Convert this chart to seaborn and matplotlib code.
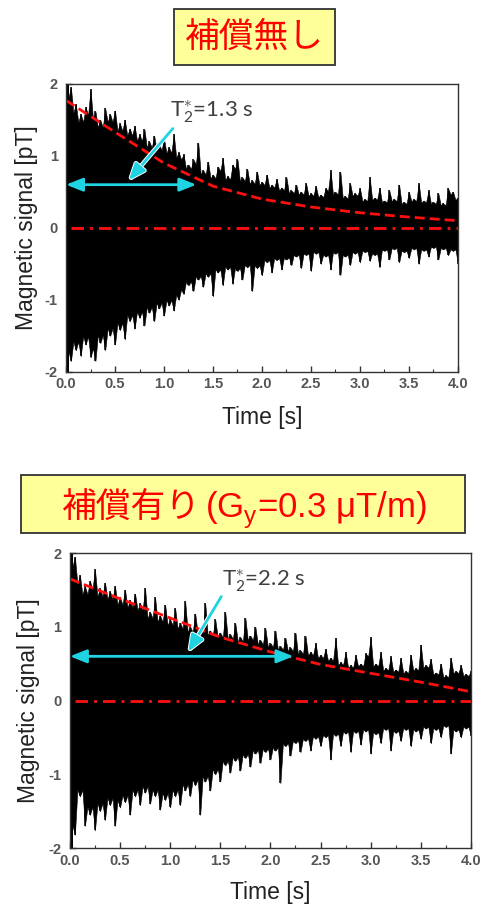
import numpy as np
import matplotlib
matplotlib.use('Agg')
import matplotlib.pyplot as plt
import matplotlib.patheffects as pe
import seaborn as sns
from matplotlib.patches import Rectangle
from matplotlib.ticker import MultipleLocator

# --- data ---
# signal envelope (upper / lower edge of the black band), every 0.05 s
sig_time = np.linspace(0, 4, 81)

upper_nocomp = [2.00, 1.95, 1.72, 1.58, 1.68, 1.93, 1.62, 1.50, 1.66, 1.58,
                1.63, 1.45, 1.50, 1.38, 1.42, 1.30, 1.37, 1.20, 1.28, 1.16,
                1.24, 1.12, 1.30, 1.05, 1.02, 0.88, 0.95, 1.18, 0.80, 0.92,
                0.74, 0.85, 0.97, 0.72, 0.88, 0.95, 0.70, 0.82, 0.66, 0.78,
                0.64, 0.74, 0.60, 0.68, 0.56, 0.70, 0.52, 0.60, 0.50, 0.62,
                0.48, 0.58, 0.46, 0.55, 0.80, 0.50, 0.78, 0.44, 0.62, 0.48,
                0.55, 0.40, 0.70, 0.42, 0.56, 0.38, 0.52, 0.40, 0.60, 0.36,
                0.50, 0.40, 0.62, 0.38, 0.52, 0.36, 0.48, 0.34, 0.55, 0.50,
                0.42]
lower_nocomp = [-2.00, -1.85, -1.70, -1.78, -1.62, -1.80, -1.85, -1.60, -1.70, -1.50,
                -1.62, -1.42, -1.55, -1.30, -1.40, -1.25, -1.36, -1.18, -1.30, -1.12,
                -1.22, -1.08, -1.15, -1.00, -0.92, -0.80, -0.88, -0.72, -0.82, -0.68,
                -0.95, -0.62, -0.80, -0.58, -0.78, -0.60, -0.72, -0.55, -0.88, -0.56,
                -0.66, -0.48, -0.62, -0.45, -0.58, -0.44, -0.52, -0.40, -0.56, -0.38,
                -0.60, -0.36, -0.50, -0.40, -0.58, -0.36, -0.66, -0.40, -0.52, -0.36,
                -0.48, -0.34, -0.46, -0.38, -0.55, -0.32, -0.44, -0.30, -0.48, -0.34,
                -0.42, -0.30, -0.50, -0.32, -0.40, -0.28, -0.44, -0.30, -0.38, -0.32,
                -0.50]
upper_comp = [2.00, 1.95, 1.70, 1.55, 1.62, 1.78, 1.52, 1.60, 1.48, 1.55,
              1.40, 1.50, 1.36, 1.45, 1.32, 1.52, 1.20, 1.40, 1.15, 1.30,
              1.10, 1.25, 1.05, 1.35, 1.00, 1.18, 0.98, 1.32, 0.95, 1.10,
              0.92, 1.20, 0.90, 1.05, 0.86, 1.12, 0.88, 1.00, 0.82, 0.98,
              0.78, 0.95, 0.74, 0.85, 0.72, 0.92, 0.68, 0.88, 0.66, 0.78,
              0.62, 0.70, 0.58, 0.85, 0.52, 0.66, 0.48, 0.62, 0.50, 0.64,
              0.86, 0.50, 0.66, 0.44, 0.60, 0.42, 0.58, 0.40, 0.62, 0.44,
              0.76, 0.48, 0.56, 0.38, 0.50, 0.34, 0.58, 0.40, 0.48, 0.36,
              0.40]
lower_comp = [-2.00, -1.82, -1.30, -1.70, -1.55, -1.76, -1.50, -1.62, -1.42, -1.70,
              -1.45, -1.38, -1.55, -1.30, -1.42, -1.25, -1.40, -1.30, -1.48, -1.35,
              -1.45, -1.30, -1.42, -1.22, -1.30, -1.15, -1.55, -1.10, -1.22, -1.00,
              -1.10, -0.88, -0.98, -0.82, -0.95, -0.78, -0.90, -0.72, -0.85, -0.70,
              -0.80, -0.68, -1.12, -0.62, -0.75, -0.58, -0.70, -0.55, -0.68, -0.52,
              -0.62, -0.50, -0.80, -0.48, -0.62, -0.45, -0.70, -0.44, -0.60, -0.42,
              -0.72, -0.46, -0.58, -0.40, -0.68, -0.44, -0.55, -0.40, -0.62, -0.42,
              -0.52, -0.38, -0.58, -0.40, -0.50, -0.36, -0.72, -0.42, -0.50, -0.38,
              -0.48]

# red dashed decay curve
fit_time = [0.0, 0.5, 1.0, 1.5, 2.0, 2.5, 3.0, 3.5, 4.0]
fit_nocomp = [1.77, 1.33, 0.90, 0.58, 0.40, 0.29, 0.21, 0.15, 0.10]
fit_comp = [1.65, 1.38, 1.12, 0.86, 0.66, 0.49, 0.37, 0.25, 0.12]

t2_values = [1.3, 2.2]
title_nocomp = '補償無し'
title_comp_jp = '補償有り'
title_comp_gy = r'(G$_\mathregular{y}$=0.3 μT/m)'

sns.set_style('ticks')
plt.rcParams['font.family'] = ['Liberation Sans', 'Noto Sans CJK JP']
plt.rcParams['axes.unicode_minus'] = False
plt.rcParams['mathtext.fontset'] = 'custom'
plt.rcParams['mathtext.rm'] = 'Lato'

cyan = '#1FD3E2'

fig = plt.figure(figsize=(4.82, 9.07), dpi=100)
ax1 = fig.add_axes([0.137, 0.590, 0.813, 0.3175])
ax2 = fig.add_axes([0.145, 0.065, 0.832, 0.3252])

panels = [
    (ax1, upper_nocomp, lower_nocomp, fit_nocomp, t2_values[0], (1.06, 1.61), (1.09, 1.38), (0.64, 0.66)),
    (ax2, upper_comp, lower_comp, fit_comp, t2_values[1], (1.52, 1.62), (1.51, 1.41), (1.18, 0.66)),
]

for ax, up, lo, fit, t2, txt_xy, ptr_from, ptr_to in panels:
    up = np.array(up)
    lo = np.array(lo)
    # edge of the band: each reading is a peak, the notch between two peaks
    # drops to the smaller of them, so every reading becomes a narrow spike
    n = len(sig_time)
    band_t = np.empty(2 * n - 1)
    band_up = np.empty(2 * n - 1)
    band_lo = np.empty(2 * n - 1)
    band_t[0::2] = sig_time
    band_t[1::2] = (sig_time[:-1] + sig_time[1:]) / 2
    band_up[0::2] = up
    band_up[1::2] = np.minimum(up[:-1], up[1:]) * 0.93
    band_lo[0::2] = lo
    band_lo[1::2] = np.maximum(lo[:-1], lo[1:]) * 0.93
    ax.fill_between(band_t, band_lo, band_up, color='black', lw=0.4)
    ax.vlines(sig_time, lo, up, color='black', lw=1.1)
    ax.fill_between([0, 0.03], [-2, -2], [2, 2], color='black', lw=0)

    sns.lineplot(x=fit_time, y=fit, ax=ax, color='#FF1010', linewidth=2.0)
    ax.lines[-1].set_linestyle((0, (3.6, 1.8)))
    sns.lineplot(x=[0.05, 4.0], y=[0, 0], ax=ax, color='#FF1010', linewidth=2.0)
    ax.lines[-1].set_linestyle((0, (4.5, 2.2, 1.0, 2.2)))

    # T2* arrow + pointer
    ax.annotate('', xy=(0.0, 0.6), xytext=(t2 + 0.03, 0.6),
                arrowprops=dict(arrowstyle='<|-|>,head_length=0.5,head_width=0.2',
                                color=cyan, lw=2, mutation_scale=20, shrinkA=0, shrinkB=0))
    ax.annotate('', xy=ptr_to, xytext=ptr_from,
                arrowprops=dict(arrowstyle='-|>,head_length=0.5,head_width=0.2',
                                color=cyan, lw=2, mutation_scale=20, shrinkA=0, shrinkB=0,
                                path_effects=[pe.withStroke(linewidth=3.4, foreground='white')]))
    ax.text(txt_xy[0], txt_xy[1], r'T$_\mathregular{2}^{\ast}$=%.1f s' % t2,
            ha='left', va='center', fontsize=16, color='#404040', family='Lato')

    ax.set_xlim(0, 4)
    ax.set_ylim(-2, 2)
    ax.set_xticks(np.arange(0, 4.01, 0.5))
    ax.set_xticklabels(['%.1f' % v for v in np.arange(0, 4.01, 0.5)])
    ax.set_yticks([-2, -1, 0, 1, 2])
    ax.xaxis.set_minor_locator(MultipleLocator(0.25))
    ax.tick_params(which='major', direction='in', length=4, width=1, color='#333333',
                   labelsize=10.5, labelcolor='#555555', pad=4)
    ax.tick_params(axis='y', pad=6)
    ax.tick_params(which='minor', direction='in', length=2.2, width=0.8, color='#333333')
    for lbl in ax.get_xticklabels() + ax.get_yticklabels():
        lbl.set_fontweight('bold')
    for sp in ax.spines.values():
        sp.set_visible(True)
        sp.set_color('#333333')
        sp.set_linewidth(1.0)
    ax.set_xlabel('Time [s]', fontsize=16.5, color='#222222')
    ax.set_ylabel('Magnetic signal [pT]', fontsize=16.5, color='#222222')

ax1.xaxis.set_label_coords(0.5, -0.118)
ax1.yaxis.set_label_coords(-0.071, 0.5)
ax2.xaxis.set_label_coords(0.5, -0.112)
ax2.yaxis.set_label_coords(-0.075, 0.5)

# yellow title boxes
box1 = (0.361, 0.9283, 0.334, 0.0617)
box2 = (0.0436, 0.4123, 0.921, 0.0639)
for x0, y0, w, h in [box1, box2]:
    fig.add_artist(Rectangle((x0, y0), w, h, transform=fig.transFigure,
                             facecolor='#FFFF99', edgecolor='#333333', lw=1.3))

fig.text(box1[0] + box1[2] / 2, box1[1] + box1[3] / 2, title_nocomp, ha='center', va='center',
         fontsize=25, color='#FF0000', family='Noto Sans CJK JP')
yc = box2[1] + box2[3] / 2
fig.text(201 / 482, yc, title_comp_jp, ha='right', va='center_baseline',
         fontsize=25, color='#FF0000', family='Noto Sans CJK JP')
fig.text(205 / 482, yc, title_comp_gy, ha='left', va='center_baseline',
         fontsize=25, color='#FF0000', family='Liberation Sans')

fig.savefig('out.png', dpi=100)
